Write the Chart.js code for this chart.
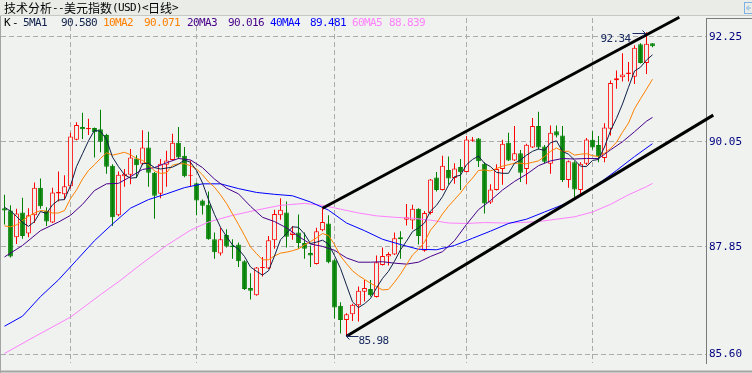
<!DOCTYPE html>
<html>
<head>
<meta charset="utf-8">
<title>美元指数 日线</title>
<script src="https://cdn.jsdelivr.net/npm/chart.js@4.4.1/dist/chart.umd.min.js"></script>
<style>
  html, body { margin: 0; padding: 0; background: #EFF2EE; }
  canvas { display: block; }
</style>
</head>
<body>
<canvas id="kChart" width="752" height="373"></canvas>
<script>
// 日线 K 线，数值从截图上读出
const opens = [
  88.66, 88.61, 88.05, 88.57, 88.13, 88.51, 89.09, 88.60, 88.36, 88.97,
  88.95, 89.12, 90.09, 90.36, 90.31, 90.34, 90.31, 90.19, 89.55, 88.51,
  89.33, 89.36, 89.70, 89.59, 89.93, 89.40, 88.96, 89.57, 89.67, 90.03,
  89.76, 89.34, 89.18, 88.82, 88.73, 88.01, 87.71, 88.10, 87.88, 87.90,
  87.55, 86.99, 86.84, 87.41, 87.40, 87.99, 88.51, 88.57, 88.10, 88.15,
  87.93, 87.72, 87.49, 88.20, 88.34, 87.57, 86.62, 86.32, 86.44, 86.63,
  86.91, 86.97, 86.80, 87.47, 87.65, 87.69, 88.05, 88.42, 88.40, 88.65,
  87.77, 88.56, 89.30, 89.04, 89.46, 89.29, 89.52, 89.42, 90.07, 90.12,
  89.59, 88.78, 89.04, 89.48, 90.03, 89.66, 89.81, 89.48, 89.93, 90.38,
  89.95, 89.59, 90.27, 90.18, 89.25, 89.62, 89.04, 89.59, 90.09, 89.98,
  89.71, 90.32, 91.34, 91.40, 91.47, 91.41, 92.09, 91.70, 92.11
];
const highs = [
  88.94, 88.72, 88.65, 88.88, 88.66, 89.20, 89.28, 88.68, 89.09, 89.43,
  89.35, 90.24, 90.46, 90.66, 90.53, 90.35, 90.72, 90.22, 89.58, 89.43,
  89.48, 89.90, 89.77, 90.29, 90.26, 89.42, 89.69, 89.86, 90.22, 90.36,
  89.94, 89.66, 89.19, 88.84, 89.01, 88.15, 88.25, 88.22, 88.01, 87.94,
  87.57, 87.30, 87.43, 87.64, 88.08, 88.63, 88.87, 88.80, 88.29, 88.53,
  88.15, 87.88, 88.25, 88.66, 88.51, 87.59, 86.69, 86.46, 86.66, 87.02,
  87.16, 87.16, 87.67, 87.84, 87.74, 88.15, 88.18, 88.75, 88.73, 88.66,
  88.60, 89.27, 89.42, 89.76, 89.74, 89.60, 89.69, 90.17, 90.15, 90.13,
  89.62, 89.16, 89.58, 90.09, 90.24, 90.38, 89.88, 90.01, 90.55, 90.68,
  89.98, 90.39, 90.39, 90.38, 89.66, 89.64, 89.62, 90.13, 90.27, 90.17,
  90.44, 91.33, 91.54, 91.90, 91.72, 92.07, 92.11, 92.34, 92.11
];
const lows = [
  88.32, 87.63, 87.91, 88.02, 88.05, 88.35, 88.65, 88.29, 88.35, 88.80,
  88.84, 89.07, 90.08, 90.11, 90.19, 89.72, 89.83, 89.38, 88.29, 88.49,
  89.11, 89.16, 89.29, 89.56, 89.11, 88.44, 88.87, 89.11, 89.66, 89.69,
  89.31, 89.12, 88.51, 88.53, 88.00, 87.60, 87.67, 87.84, 87.60, 87.43,
  86.95, 86.75, 86.83, 87.23, 87.39, 87.81, 88.42, 87.84, 88.00, 87.81,
  87.60, 87.43, 87.48, 88.18, 87.51, 86.35, 86.04, 85.98, 86.30, 86.29,
  86.71, 86.81, 86.79, 87.46, 87.46, 87.68, 87.60, 88.30, 88.22, 87.90,
  87.75, 88.53, 89.01, 89.03, 89.15, 89.17, 89.04, 89.41, 90.05, 89.52,
  88.55, 88.75, 89.03, 89.15, 89.65, 89.65, 89.21, 89.16, 89.92, 89.89,
  89.60, 89.38, 90.14, 89.21, 89.09, 88.86, 88.94, 89.56, 89.89, 89.62,
  89.62, 90.18, 91.16, 91.31, 91.31, 91.26, 91.69, 91.47, 92.03
];
const closes = [
  88.61, 87.65, 88.55, 88.08, 88.51, 89.09, 88.70, 88.38, 88.99, 89.00,
  89.12, 90.16, 90.40, 90.31, 90.34, 90.25, 90.05, 89.53, 88.47, 89.36,
  89.38, 89.72, 89.56, 89.93, 89.40, 88.92, 89.59, 89.66, 90.03, 89.72,
  89.33, 89.35, 88.82, 88.71, 88.01, 87.74, 88.01, 87.86, 87.85, 87.55,
  86.97, 86.93, 87.42, 87.43, 87.99, 88.54, 88.63, 88.06, 88.15, 87.93,
  87.81, 87.67, 88.18, 88.37, 87.53, 86.58, 86.32, 86.44, 86.64, 86.93,
  86.99, 86.84, 87.53, 87.66, 87.70, 88.03, 88.01, 88.47, 88.65, 88.08,
  88.56, 89.26, 89.04, 89.55, 89.28, 89.49, 89.41, 90.10, 90.10, 89.64,
  88.76, 89.05, 89.48, 90.01, 89.66, 89.81, 89.40, 89.99, 90.38, 89.93,
  89.63, 90.24, 90.18, 89.25, 89.64, 89.05, 89.59, 90.10, 89.93, 89.74,
  90.35, 91.28, 91.38, 91.46, 91.50, 92.02, 91.70, 92.10, 92.05
];

// 均线，一根 K 线一个值
const ma5 = [
  88.68, 88.60, 88.49, 88.36, 88.28, 88.38, 88.59, 88.55, 88.73, 88.83,
  88.84, 89.13, 89.53, 89.80, 90.07, 90.29, 90.27, 90.10, 89.73, 89.53,
  89.36, 89.29, 89.30, 89.59, 89.60, 89.51, 89.48, 89.50, 89.52, 89.58,
  89.67, 89.62, 89.45, 89.19, 88.84, 88.53, 88.26, 88.07, 87.89, 87.80,
  87.65, 87.43, 87.34, 87.26, 87.35, 87.66, 88.00, 88.13, 88.27, 88.26,
  88.12, 87.92, 87.95, 87.99, 87.91, 87.67, 87.40, 87.05, 86.70, 86.58,
  86.66, 86.77, 86.99, 87.19, 87.34, 87.55, 87.79, 87.97, 88.17, 88.25,
  88.35, 88.60, 88.72, 88.90, 89.14, 89.32, 89.35, 89.57, 89.68, 89.75,
  89.60, 89.53, 89.41, 89.39, 89.39, 89.60, 89.67, 89.77, 89.85, 89.90,
  89.87, 90.03, 90.07, 89.85, 89.79, 89.67, 89.54, 89.53, 89.66, 89.68,
  89.94, 90.28, 90.54, 90.84, 91.19, 91.53, 91.61, 91.76, 91.87
];
const ma10 = [
  88.29, 88.27, 88.31, 88.40, 88.49, 88.56, 88.61, 88.60, 88.56, 88.56,
  88.61, 88.86, 89.04, 89.27, 89.45, 89.57, 89.70, 89.82, 89.77, 89.80,
  89.83, 89.78, 89.70, 89.66, 89.57, 89.44, 89.39, 89.40, 89.56, 89.59,
  89.59, 89.55, 89.48, 89.36, 89.21, 89.10, 88.94, 88.76, 88.54, 88.32,
  88.09, 87.85, 87.71, 87.58, 87.58, 87.66, 87.72, 87.74, 87.77, 87.81,
  87.89, 87.96, 88.04, 88.13, 88.09, 87.90, 87.66, 87.50, 87.35, 87.25,
  87.17, 87.09, 87.02, 86.95, 86.96, 87.11, 87.28, 87.48, 87.68, 87.80,
  87.95, 88.20, 88.35, 88.54, 88.70, 88.84, 88.98, 89.15, 89.29, 89.45,
  89.46, 89.44, 89.49, 89.54, 89.57, 89.60, 89.60, 89.59, 89.62, 89.65,
  89.74, 89.85, 89.92, 89.85, 89.85, 89.77, 89.79, 89.80, 89.76, 89.74,
  89.81, 89.91, 90.04, 90.25, 90.44, 90.74, 90.95, 91.15, 91.36
];
// 长周期均线比较平滑，隔几根取一个点 [K线序号, 数值]
const ma20 = [
  [0, 87.64], [3, 87.88], [6, 88.19], [9, 88.37], [11, 88.51], [13, 88.74], [15, 89.03],
  [17, 89.17], [19, 89.18], [21, 89.32], [23, 89.47], [25, 89.51], [27, 89.61], [29, 89.70],
  [31, 89.67], [33, 89.51], [35, 89.27], [37, 89.08], [39, 88.96], [41, 88.70], [43, 88.47],
  [45, 88.38], [47, 88.25], [49, 88.07], [51, 87.91], [53, 87.86], [55, 87.78], [57, 87.62],
  [59, 87.53], [61, 87.53], [63, 87.54], [65, 87.51], [67, 87.49], [69, 87.53], [71, 87.65],
  [73, 87.75], [75, 87.98], [77, 88.32], [79, 88.63], [81, 88.82], [83, 89.04], [85, 89.22],
  [87, 89.37], [89, 89.55], [91, 89.65], [93, 89.70], [95, 89.69], [97, 89.70], [99, 89.70],
  [101, 89.88], [103, 90.05], [105, 90.26], [107, 90.48], [108, 90.56]
];
const ma40 = [
  [0, 86.19], [3, 86.40], [6, 86.81], [9, 87.16], [12, 87.57], [15, 87.98], [18, 88.33],
  [21, 88.66], [24, 88.84], [27, 88.96], [30, 89.09], [33, 89.17], [36, 89.17], [39, 89.07],
  [42, 88.99], [45, 88.95], [48, 88.92], [51, 88.79], [54, 88.62], [57, 88.35], [60, 88.19],
  [63, 88.01], [66, 87.90], [69, 87.80], [72, 87.79], [75, 87.88], [78, 88.03], [81, 88.18],
  [84, 88.34], [87, 88.43], [90, 88.58], [93, 88.73], [96, 88.92], [99, 89.17], [102, 89.45],
  [105, 89.74], [108, 90.01]
];
const ma60 = [
  [0, 85.62], [5, 85.97], [11, 86.38], [16, 86.85], [19, 87.12], [23, 87.51], [27, 87.88],
  [31, 88.20], [34, 88.37], [38, 88.51], [42, 88.62], [46, 88.72], [50, 88.76], [53, 88.72],
  [56, 88.64], [59, 88.56], [62, 88.50], [65, 88.47], [68, 88.45], [71, 88.41], [74, 88.35],
  [77, 88.34], [80, 88.36], [83, 88.35], [86, 88.36], [89, 88.38], [92, 88.43], [95, 88.48],
  [98, 88.58], [101, 88.74], [104, 88.94], [107, 89.11], [108, 89.18]
];

// 手画的上升通道
const channelUpper = [[53, 88.66], [112.47, 92.655]];
const channelLower = [[57, 85.98], [118.13, 90.607]];

const priceTicks = [92.25, 90.05, 87.85, 85.60];
const monthStarts = [11, 32, 55, 77, 98];

const chartTitle = '技术分析--美元指数(USD)<日线>';
const maNames = ['5MA1', '10MA2', '20MA3', '40MA4', '60MA5'];
const maLegendValues = ['90.580', '90.071', '90.016', '89.481', '88.839'];
const maColors = ['#10204A', '#FF8000', '#48008A', '#0000FF', '#FF80FF'];

const PLOT_BG = '#EFF2EE';
const UP = '#FF0000';
const DOWN = '#008000';
const MARK = '#1A2A60';

const idx = opens.map((_, i) => i);
const isUp = i => closes[i] >= opens[i];
const candleColor = idx.map(i => isUp(i) ? UP : DOWN);
const toPoints = list => list.map(([x, y]) => ({ x, y }));

// 等宽逐字画文字：汉字 12px，其它 6px
const drawFixed = (ctx, text, x, y, color) => {
    ctx.fillStyle = color;
    ctx.textBaseline = 'middle';
    ctx.textAlign = 'left';
    for (const ch of text) {
        const wide = ch.charCodeAt(0) > 0x2e80;
        ctx.font = wide ? '12px "Noto Sans CJK SC"' : '11px "DejaVu Sans Mono"';
        ctx.fillText(ch, x, y);
        x += wide ? 12 : 6;
    }
    return x;
};

const framePlugin = {
    id: 'frame',
    beforeDraw(chart) {
        const { ctx, width, height, chartArea } = chart;
        ctx.save();
        ctx.fillStyle = PLOT_BG;
        ctx.fillRect(0, 0, width, height);
        // 标题栏
        ctx.fillStyle = '#E9ECE7';
        ctx.fillRect(0, 0, width, 15);
        ctx.strokeStyle = '#C6C8C4';
        ctx.lineWidth = 1;
        ctx.beginPath();
        ctx.moveTo(0, 15.5); ctx.lineTo(width, 15.5);
        ctx.stroke();
        // 右上角小图标
        ctx.strokeStyle = '#7FB2E5';
        ctx.strokeRect(744.5, 2.5, 10, 11);
        ctx.beginPath();
        ctx.moveTo(751, 8); ctx.lineTo(747, 8);
        ctx.moveTo(749, 5.5); ctx.lineTo(746.5, 8); ctx.lineTo(749, 10.5);
        ctx.stroke();
        // 边框
        ctx.strokeStyle = '#A4A4A4';
        ctx.beginPath();
        ctx.moveTo(0.5, 16); ctx.lineTo(0.5, height);
        ctx.stroke();
        ctx.lineWidth = 2;
        ctx.beginPath();
        ctx.moveTo(0, 371.5); ctx.lineTo(width, 371.5);
        ctx.stroke();
        ctx.lineWidth = 1;
        ctx.strokeStyle = '#7A7A7A';
        ctx.beginPath();
        ctx.moveTo(chartArea.right, 18.5); ctx.lineTo(width, 18.5);
        ctx.stroke();
        drawFixed(ctx, chartTitle, 4, 8, '#000000');
        ctx.restore();
    },
    afterDatasetsDraw(chart) {
        const { ctx } = chart;
        const xs = chart.scales.x, ys = chart.scales.y;
        ctx.save();
        ctx.strokeStyle = MARK;
        ctx.lineWidth = 1;

        // 最高价标记
        const hiIdx = highs.indexOf(Math.max(...highs));
        let px = Math.round(xs.getPixelForValue(hiIdx)) + 0.5;
        let py = Math.round(ys.getPixelForValue(highs[hiIdx])) + 1.5;
        ctx.beginPath();
        ctx.moveTo(px - 14, py); ctx.lineTo(px - 1, py);
        ctx.moveTo(px - 4, py - 3); ctx.lineTo(px - 1, py); ctx.lineTo(px - 4, py + 3);
        ctx.stroke();
        drawFixed(ctx, highs[hiIdx].toFixed(2), px - 46, py + 6, MARK);

        // 最低价标记
        const loIdx = lows.indexOf(Math.min(...lows));
        px = Math.round(xs.getPixelForValue(loIdx)) + 0.5;
        py = Math.round(ys.getPixelForValue(lows[loIdx])) + 0.5;
        ctx.beginPath();
        ctx.moveTo(px, py); ctx.lineTo(px + 12, py);
        ctx.moveTo(px + 3, py - 3); ctx.lineTo(px, py); ctx.lineTo(px + 3, py + 3);
        ctx.stroke();
        drawFixed(ctx, lows[loIdx].toFixed(2), px + 12, py + 5, MARK);
        ctx.restore();
    },
    afterDraw(chart) {
        const { ctx } = chart;
        ctx.save();
        // 图例行
        drawFixed(ctx, 'K', 4, 23.5, '#000000');
        drawFixed(ctx, '-', 12, 23.5, '#000000');
        const nameX = [23, 103, 187, 270, 352];
        const valueX = [61, 144, 228, 310, 389];
        maNames.forEach((name, k) => {
            drawFixed(ctx, name, nameX[k], 23.5, maColors[k]);
            drawFixed(ctx, maLegendValues[k], valueX[k], 23.5, maColors[k]);
        });
        ctx.restore();
    }
};

const lineSet = (label, points, color, width) => ({
    type: 'line',
    label: label,
    data: points,
    borderColor: color,
    borderWidth: width,
    pointRadius: 0,
    tension: 0,
    fill: false,
    order: 0
});

const ctx = document.getElementById('kChart').getContext('2d');
new Chart(ctx, {
    type: 'bar',
    data: {
        datasets: [
            Object.assign(lineSet('通道上轨', toPoints(channelUpper), '#000000', 3), { clip: 12 }),
            Object.assign(lineSet('通道下轨', toPoints(channelLower), '#000000', 3), { clip: 12 }),
            lineSet(maNames[0], ma5.map((v, i) => ({ x: i, y: v })), maColors[0], 1),
            lineSet(maNames[1], ma10.map((v, i) => ({ x: i, y: v })), maColors[1], 1),
            lineSet(maNames[2], toPoints(ma20), maColors[2], 1),
            lineSet(maNames[3], toPoints(ma40), maColors[3], 1),
            lineSet(maNames[4], toPoints(ma60), maColors[4], 1),
            {
                label: 'K 实体',
                data: idx.map(i => ({ x: i, y: [opens[i], closes[i]] })),
                backgroundColor: idx.map(i => isUp(i) ? PLOT_BG : DOWN),
                borderColor: candleColor,
                borderWidth: 1,
                borderSkipped: false,
                grouped: false,
                barPercentage: 1,
                maxBarThickness: 5,
                minBarLength: 1,
                order: 1
            },
            {
                label: 'K 影线',
                data: idx.map(i => ({ x: i, y: [lows[i], highs[i]] })),
                backgroundColor: candleColor,
                borderWidth: 0,
                grouped: false,
                barPercentage: 1,
                maxBarThickness: 1,
                order: 2
            }
        ]
    },
    options: {
        responsive: false,
        animation: false,
        events: [],
        layout: { padding: { left: 1, top: 18, right: 0, bottom: 3 } },
        plugins: {
            legend: { display: false },
            tooltip: { enabled: false }
        },
        scales: {
            x: {
                type: 'linear',
                min: -0.5833,
                max: 116.9167,
                offset: false,
                grid: { offset: false, color: '#ABABAB', lineWidth: 1, drawTicks: false, tickLength: 0 },
                border: { display: false, dash: [5, 3] },
                ticks: { display: false },
                afterBuildTicks: s => { s.ticks = monthStarts.map(v => ({ value: v })); },
                afterFit: s => { s.height = 0; }
            },
            y: {
                type: 'linear',
                position: 'right',
                min: 85.4122,
                max: 92.6402,
                grid: { color: '#ABABAB', lineWidth: 1, drawTicks: false, tickLength: 0 },
                border: { display: true, color: '#7A7A7A', width: 1, dash: [5, 3] },
                ticks: {
                    color: '#000080',
                    padding: 3,
                    font: { family: 'DejaVu Sans Mono', size: 11 },
                    callback: v => v.toFixed(2)
                },
                afterBuildTicks: s => { s.ticks = priceTicks.map(v => ({ value: v })); },
                afterFit: s => { s.width = 46; }
            }
        }
    },
    plugins: [framePlugin]
});
</script>
</body>
</html>
